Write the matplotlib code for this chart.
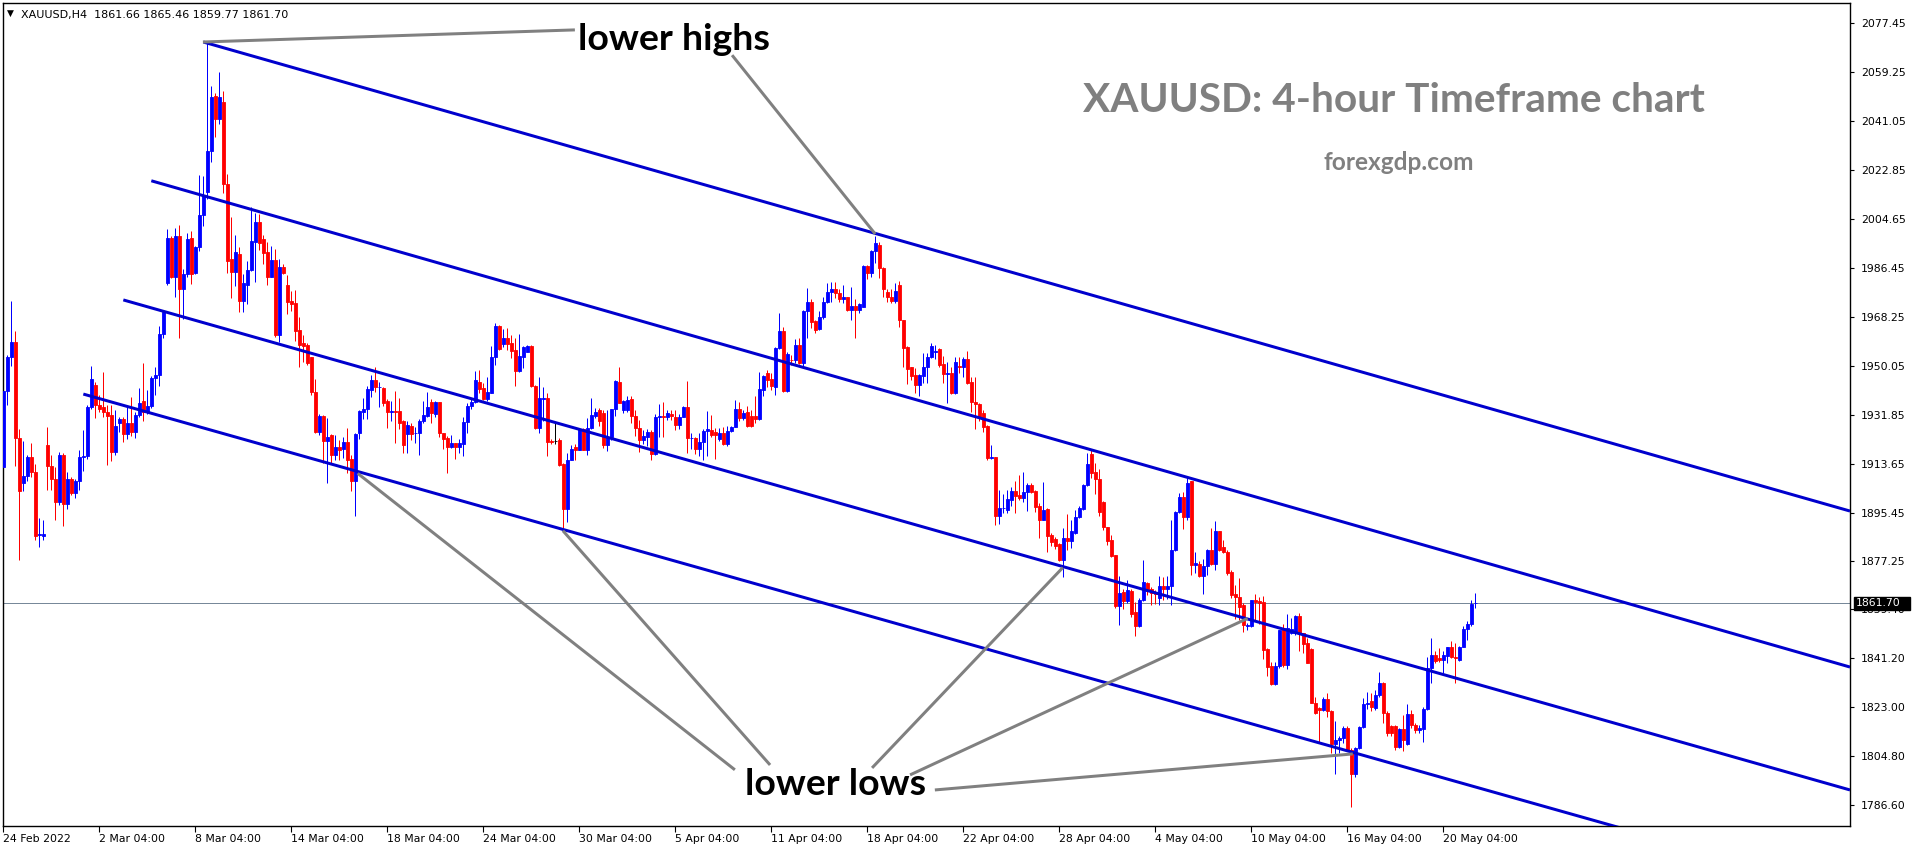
import matplotlib
matplotlib.use("Agg")
import matplotlib.pyplot as plt
from matplotlib.patches import Rectangle
from matplotlib.transforms import blended_transform_factory
import numpy as np

# ---------------- data (XAUUSD H4) ----------------
opens = [
1912.3,1940.5,1953.3,1959.0,1923.2,1906.5,1909.1,1916.1,1910.4,1887.1,
1886.9,1920.6,1912.9,1907.8,1899.2,1917.0,1898.8,1908.1,1902.7,1907.2,
1916.1,1916.5,1934.7,1943.0,1935.3,1934.7,1932.8,1931.7,1918.0,1928.9,
1930.2,1924.8,1928.7,1925.3,1931.7,1936.9,1933.0,1935.0,1945.6,1946.6,
1961.8,1980.8,1997.7,1982.9,1998.1,1978.6,1984.2,1997.7,1984.6,1994.0,
2006.1,2014.7,2030.0,2050.3,2041.6,2048.2,2017.5,1989.7,1985.0,1991.7,
1974.1,1980.1,1985.6,1996.1,2003.4,1997.2,1992.3,1983.1,1989.4,1961.6,
1986.8,1979.9,1974.1,1973.3,1963.5,
1958.4,1957.8,1953.2,1940.4,1925.5,1931.4,1922.2,1924.3,1917.0,1919.7,
1919.0,1921.8,1915.4,1907.0,1925.2,1933.0,1934.0,1941.0,1944.7,1942.0,
1941.6,1936.9,1933.0,1933.2,1933.2,1929.3,1924.5,1927.6,1924.9,1924.9,
1929.3,1931.5,1936.7,1932.1,1936.4,1924.9,1923.3,1920.0,1921.2,1920.0,
1921.0,1929.0,1935.2,1936.4,1943.9,1941.9,1937.6,1940.0,1953.2,1964.8,
1958.1,1960.2,1958.4,1955.9,1948.2,1953.2,1955.3,1957.4,1942.6,1926.8,
1937.6,1937.9,1922.1,1922.1,1922.4,1913.5,1896.7,1915.0,1920.0,1918.7,
1926.4,1918.7,1926.8,1931.5,1933.4,
1932.6,1920.6,1923.7,1933.8,1943.8,1933.6,1933.6,1937.6,1931.4,1927.0,
1922.5,1923.5,1925.5,1917.2,1931.1,1931.4,1931.1,1932.1,1931.1,1928.0,
1931.1,1934.8,1923.1,1923.1,1919.0,1921.5,1925.9,1926.2,1925.4,1922.7,
1925.2,1921.0,1925.9,1927.4,1933.8,1930.5,1933.0,1931.4,1931.4,1930.1,
1941.0,1947.5,1945.0,1942.3,1956.5,1963.0,1940.7,1952.2,1952.2,1957.8,
1951.2,1970.5,1973.9,1966.7,1963.6,1968.3,1973.9,1977.3,1978.6,1977.2,
1974.7,1975.5,1970.8,1972.3,1970.8,1972.0,1987.1,1984.6,1992.7,1994.9,
1986.2,1977.6,1975.5,1974.2,1980.0,
1967.0,1957.1,1949.5,1946.6,1942.9,1946.2,1949.5,1953.2,1955.3,1956.1,
1950.7,1947.0,1947.2,1940.0,1950.0,1949.7,1952.4,1943.8,1936.7,1935.8,
1932.4,1927.6,1915.6,1916.0,1894.2,1897.0,1896.3,1900.1,1903.6,1902.0,
1900.8,1902.9,1905.7,1903.6,1897.9,1892.7,1896.7,1887.1,1885.5,1883.8,
1877.8,1885.9,1885.0,1888.0,1893.7,1896.7,1905.7,1917.2,1910.7,1907.8,
1899.2,1890.0,1885.3,1879.7,1860.7,1866.0,1862.7,1866.4,1858.3,1853.1,
1863.0,1869.4,1866.9,1866.0,1863.6,1868.2,1866.9,1868.2,1881.6,1895.8,
1901.4,1893.7,1907.0,1876.0,
1876.4,1871.9,1875.4,1881.5,1876.4,1888.4,1882.5,1880.9,1873.5,1865.2,
1864.2,1861.1,1853.1,1853.1,1863.0,1862.6,1862.0,1844.6,1838.4,1831.8,
1838.4,1852.4,1838.8,1850.6,1850.6,1856.8,1850.6,1847.1,1844.6,1824.8,
1822.7,1822.1,1826.0,1821.8,1809.4,1810.9,1811.5,1815.3,1807.2,1798.3,
1807.8,1815.6,1824.3,1825.2,1822.7,1827.7,1832.2,1821.1,1815.9,1815.9,
1808.2,1814.9,1809.4,1820.6,1816.5,1814.7,1814.9,1822.3,1837.6,1842.5,
1841.3,1840.7,1842.1,1845.4,1841.9,1840.7,1845.6,1852.1,1854.0,1861.66,
]
highs = [
1948.8,1953.9,1974.1,1962.9,1926.4,1921.9,1916.8,1921.3,1913.6,1893.3,
1892.8,1927.3,1916.8,1912.3,1918.0,1917.6,1910.6,1908.5,1907.8,1918.7,
1926.1,1935.3,1950.1,1944.0,1939.2,1947.7,1935.6,1935.3,1933.4,1930.8,
1930.8,1934.7,1938.5,1932.8,1941.7,1951.0,1941.1,1946.2,1949.4,1964.8,
1970.8,2000.9,1998.3,2001.3,2002.3,1985.9,1999.3,2000.0,1994.5,2021.1,
2020.7,2070.4,2054.1,2051.6,2059.2,2052.2,2021.3,2005.5,1998.7,1994.2,
1984.0,1989.1,2009.0,2007.0,2006.4,1998.7,1996.1,1994.5,1993.6,1989.7,
1987.8,1983.6,1977.8,1978.2,1968.0,
1961.5,1958.4,1953.4,1945.0,1932.0,1931.6,1930.5,1924.5,1924.3,1922.4,
1923.7,1926.8,1916.9,1924.9,1933.6,1937.9,1942.6,1946.6,1949.4,1944.1,
1942.3,1937.5,1936.9,1940.7,1937.9,1929.9,1929.3,1928.6,1927.4,1930.1,
1937.1,1940.4,1937.7,1937.1,1936.7,1925.2,1923.9,1924.3,1921.2,1922.7,
1931.1,1936.1,1937.9,1948.2,1948.5,1943.5,1945.7,1957.4,1965.8,1965.2,
1963.6,1964.0,1961.5,1960.2,1961.7,1957.4,1957.8,1957.6,1942.9,1945.7,
1942.3,1939.8,1922.7,1928.6,1923.1,1914.0,1917.5,1920.6,1921.0,1926.8,
1926.8,1930.5,1937.9,1934.2,1934.5,
1933.6,1933.6,1934.0,1944.7,1949.7,1937.3,1938.8,1938.6,1933.6,1929.9,
1926.2,1926.4,1926.2,1932.1,1935.7,1936.7,1933.6,1933.6,1933.6,1932.1,
1935.0,1944.4,1925.2,1923.7,1924.9,1926.4,1933.3,1931.7,1926.8,1926.8,
1927.1,1927.7,1927.8,1937.3,1936.4,1933.6,1935.1,1933.6,1938.6,1947.8,
1946.6,1948.5,1947.5,1957.1,1969.5,1964.6,1955.3,1954.0,1959.9,1960.2,
1970.8,1978.8,1974.7,1967.0,1970.5,1975.7,1980.7,1981.3,1981.1,1978.4,
1980.1,1975.7,1979.4,1974.7,1973.2,1987.5,1987.5,1993.1,1998.3,1996.2,
1986.6,1978.4,1978.6,1980.7,1981.5,
1967.1,1957.4,1949.7,1949.1,1947.0,1954.7,1954.7,1958.4,1957.8,1956.5,
1953.7,1951.6,1949.7,1953.4,1953.4,1953.2,1955.6,1945.7,1946.0,1936.3,
1933.6,1928.0,1920.6,1916.2,1903.9,1902.4,1903.9,1905.1,1907.3,1909.4,
1910.7,1906.3,1906.3,1903.9,1898.9,1906.9,1897.0,1887.7,1886.5,1884.3,
1889.6,1894.9,1892.7,1896.4,1897.7,1906.0,1917.7,1918.7,1914.0,1911.5,
1899.9,1890.2,1887.1,1879.7,1871.9,1866.9,1870.2,1866.9,1862.0,1863.6,
1877.8,1869.8,1867.9,1866.5,1871.9,1871.6,1871.9,1892.7,1896.2,1902.6,
1902.9,1908.8,1907.3,1880.9,
1877.6,1878.1,1881.8,1889.6,1892.4,1888.7,1885.3,1881.5,1874.1,1868.5,
1871.0,1861.7,1854.3,1863.0,1865.2,1864.2,1864.5,1845.0,1839.7,1840.0,
1851.8,1854.0,1857.8,1856.2,1857.4,1858.2,1850.8,1848.7,1845.0,1827.0,
1823.1,1827.0,1828.3,1822.1,1818.1,1812.2,1815.9,1815.9,1807.9,1808.2,
1816.1,1826.4,1828.9,1828.5,1829.5,1836.0,1832.6,1821.5,1816.5,1816.5,
1815.3,1820.2,1824.3,1822.1,1817.1,1816.5,1823.3,1841.7,1848.7,1843.8,
1845.0,1843.8,1845.6,1847.5,1846.9,1845.9,1853.1,1855.0,1863.0,1865.46,
]
lows = [
1910.0,1935.3,1950.1,1912.9,1877.7,1903.3,1907.2,1908.5,1885.4,1882.6,
1885.2,1904.0,1904.0,1892.8,1898.2,1890.3,1896.7,1902.0,1901.0,1904.0,
1910.8,1915.5,1934.0,1930.5,1932.8,1930.8,1913.3,1914.6,1916.8,1925.3,
1921.5,1922.8,1923.8,1923.2,1930.8,1929.6,1932.1,1934.4,1939.2,1942.4,
1960.3,1980.0,1982.7,1975.6,1960.5,1967.3,1982.9,1980.4,1984.0,1992.7,
2002.1,2012.1,2025.6,2034.9,2040.0,2014.4,1984.6,1975.4,1979.5,1970.1,
1970.1,1973.1,1985.3,1981.2,1992.9,1987.8,1980.1,1983.0,1960.9,1959.0,
1984.0,1969.3,1970.5,1959.3,1949.4,
1951.6,1950.3,1939.2,1925.0,1924.3,1913.8,1906.6,1913.8,1914.8,1915.0,
1915.6,1910.1,1903.6,1894.2,1922.7,1930.1,1930.1,1938.5,1940.4,1934.8,
1935.1,1926.8,1929.3,1921.2,1926.4,1917.5,1917.5,1922.4,1921.2,1916.9,
1928.9,1931.1,1928.9,1931.1,1923.7,1919.0,1910.3,1919.4,1915.3,1917.5,
1916.5,1924.9,1933.8,1936.1,1939.8,1937.3,1937.1,1939.8,1950.3,1955.9,
1956.9,1955.9,1952.8,1942.5,1947.8,1949.1,1955.0,1942.3,1926.4,1924.9,
1929.3,1916.5,1921.0,1921.0,1912.8,1889.6,1892.1,1914.8,1915.0,1918.7,
1918.7,1916.9,1926.4,1930.5,1927.5,
1919.3,1918.5,1922.5,1931.4,1936.1,1932.6,1933.0,1928.9,1923.9,1918.1,
1921.0,1920.2,1914.8,1916.9,1923.7,1923.7,1929.9,1929.9,1926.2,1926.4,
1930.9,1917.5,1919.0,1917.2,1916.3,1914.8,1916.3,1923.7,1915.3,1922.2,
1920.6,1920.2,1925.5,1927.2,1929.3,1929.9,1927.2,1927.2,1928.6,1929.9,
1938.8,1942.3,1941.0,1939.2,1956.1,1940.4,1940.4,1950.3,1950.9,1950.7,
1949.7,1960.2,1964.0,1962.3,1963.3,1967.3,1973.5,1973.9,1975.1,1973.9,
1973.5,1970.5,1967.1,1960.2,1969.5,1971.8,1982.2,1983.2,1988.1,1982.5,
1975.7,1973.9,1973.5,1973.5,1964.6,
1949.7,1943.3,1944.7,1940.0,1938.8,1943.5,1943.5,1952.8,1952.4,1949.7,
1943.5,1936.3,1939.5,1939.5,1947.2,1945.7,1943.3,1933.0,1926.4,1929.6,
1925.5,1915.0,1915.2,1890.8,1891.2,1895.2,1895.2,1897.7,1895.2,1900.1,
1899.5,1896.2,1902.6,1895.8,1885.9,1892.5,1880.9,1883.0,1881.8,1877.6,
1871.4,1881.6,1882.2,1887.5,1893.3,1896.4,1905.3,1908.2,1902.4,1894.2,
1889.0,1883.4,1878.8,1859.9,1853.7,1859.5,1861.7,1856.5,1849.6,1852.8,
1862.4,1864.8,1861.1,1861.4,1861.1,1863.0,1863.2,1861.1,1881.3,1895.2,
1889.2,1892.5,1872.3,1872.9,
1871.4,1865.2,1872.3,1876.0,1874.1,1881.3,1880.5,1872.3,1863.6,1855.8,
1855.5,1851.2,1851.6,1852.8,1855.3,1854.1,1840.9,1834.7,1831.4,1831.4,
1837.6,1838.2,1837.2,1850.3,1850.0,1843.8,1843.4,1839.4,1824.6,1820.6,
1809.7,1821.5,1819.6,1806.0,1798.3,1806.2,1809.7,1806.6,1786.1,1797.3,
1807.4,1815.2,1822.3,1821.8,1822.1,1827.0,1817.1,1812.2,1812.2,1807.0,
1807.8,1806.6,1809.1,1815.3,1813.4,1813.4,1810.3,1822.1,1832.0,1839.4,
1839.7,1835.7,1839.4,1841.3,1832.0,1840.4,1845.4,1848.1,1853.3,1859.77,
]
closes = [
1940.5,1953.3,1959.0,1923.2,1903.3,1909.1,1916.1,1910.4,1886.9,1887.3,
1887.6,1912.9,1907.8,1899.2,1917.0,1898.8,1908.1,1902.7,1907.2,1916.1,
1916.5,1934.7,1945.2,1935.3,1934.0,1932.8,1931.5,1918.0,1927.6,1930.2,
1924.8,1928.7,1925.3,1931.7,1936.2,1932.8,1935.0,1945.6,1946.6,1961.8,
1970.1,1997.7,1982.9,1998.1,1978.6,1984.2,1997.2,1984.2,1994.0,2006.1,
2013.4,2030.0,2049.9,2041.6,2049.9,2017.5,1989.1,1985.0,1992.3,1974.1,
1980.8,1985.6,1996.5,2003.4,1995.5,1991.9,1983.1,1989.4,1961.6,1986.8,
1984.6,1973.7,1973.1,1963.1,1957.7,
1957.4,1951.0,1940.4,1925.5,1931.4,1922.2,1923.7,1916.9,1919.7,1918.7,
1921.8,1915.0,1907.0,1924.7,1933.2,1934.0,1941.4,1944.7,1942.0,1942.3,
1936.3,1933.0,1933.2,1933.0,1928.9,1920.6,1928.0,1924.7,1925.2,1929.5,
1931.7,1934.6,1932.4,1936.4,1924.9,1922.7,1920.0,1921.2,1920.0,1921.2,
1929.0,1935.2,1936.4,1944.7,1941.4,1937.6,1940.4,1953.4,1964.8,1956.3,
1960.2,1958.1,1955.5,1948.2,1953.7,1956.9,1957.4,1942.6,1926.8,1937.9,
1937.9,1921.5,1921.5,1922.1,1913.2,1896.7,1915.0,1919.0,1918.7,1926.4,
1918.7,1926.8,1931.7,1932.7,1929.5,
1920.6,1923.7,1933.8,1944.5,1936.3,1936.9,1937.3,1931.4,1927.0,1922.5,
1923.9,1925.5,1917.2,1931.1,1931.4,1931.0,1932.6,1931.4,1928.0,1931.1,
1934.8,1923.1,1923.3,1919.0,1921.5,1925.9,1926.4,1924.3,1924.3,1924.9,
1921.0,1925.9,1927.4,1933.8,1930.5,1932.6,1927.7,1927.7,1930.1,1941.4,
1946.2,1944.7,1942.5,1956.5,1963.0,1940.7,1954.4,1952.0,1957.8,1950.9,
1970.5,1973.9,1966.4,1963.3,1968.3,1973.9,1977.3,1978.6,1977.2,1974.7,
1975.5,1970.8,1972.3,1970.8,1973.0,1987.1,1984.6,1992.7,1995.6,1986.2,
1978.4,1975.5,1974.2,1977.9,1967.0,
1956.8,1948.7,1946.2,1942.9,1946.6,1949.5,1953.2,1957.4,1955.6,1950.3,
1947.0,1947.3,1940.0,1951.6,1949.7,1952.4,1943.5,1936.7,1935.8,1931.1,
1927.4,1915.6,1916.0,1894.2,1897.0,1897.3,1900.4,1903.6,1901.6,1900.8,
1903.2,1905.7,1903.2,1897.4,1892.7,1896.4,1886.8,1884.6,1883.0,1877.8,
1885.9,1885.0,1888.4,1893.7,1897.0,1905.7,1913.5,1910.1,1907.8,1895.8,
1890.0,1885.0,1879.3,1860.7,1865.7,1862.7,1866.7,1857.8,1853.1,1863.0,
1869.8,1866.4,1865.4,1865.2,1868.2,1866.9,1868.2,1881.6,1895.8,1901.4,
1893.7,1906.6,1876.0,1876.8,
1871.9,1875.4,1881.5,1876.4,1888.4,1881.5,1880.9,1873.1,1864.8,1864.0,
1860.5,1853.7,1853.7,1863.0,1862.3,1861.7,1844.4,1838.2,1831.8,1838.4,
1851.6,1838.8,1852.4,1852.1,1856.8,1850.8,1846.6,1839.4,1824.6,1820.8,
1822.1,1826.0,1821.5,1809.4,1810.9,1811.5,1815.5,1807.0,1798.3,1807.8,
1815.6,1824.3,1824.8,1823.1,1827.7,1832.0,1820.8,1813.6,1813.4,1808.4,
1814.9,1810.7,1820.6,1816.5,1814.7,1815.3,1822.3,1837.6,1842.5,1840.4,
1840.7,1842.5,1845.4,1841.7,1841.3,1845.6,1852.1,1854.0,1861.4,1861.70,
]

x_tick_bars = [0, 24, 48, 72, 96, 120, 144, 168, 192, 216, 240, 264, 288, 312, 336, 360]
x_tick_labels = ["24 Feb 2022", "2 Mar 04:00", "8 Mar 04:00", "14 Mar 04:00", "18 Mar 04:00",
                 "24 Mar 04:00", "30 Mar 04:00", "5 Apr 04:00", "11 Apr 04:00", "18 Apr 04:00",
                 "22 Apr 04:00", "28 Apr 04:00", "4 May 04:00", "10 May 04:00", "16 May 04:00",
                 "20 May 04:00"]
y_tick_values = [2077.45, 2059.25, 2041.05, 2022.85, 2004.65, 1986.45, 1968.25, 1950.05,
                 1931.85, 1913.65, 1895.45, 1877.25, 1859.40, 1841.20, 1823.00, 1804.80, 1786.60]
y_tick_labels = ["%.2f" % v for v in y_tick_values]
last_price = 1861.70
header = "XAUUSD,H4  1861.66 1865.46 1859.77 1861.70"

# channel lines: (start bar, start price, end bar, end price)
channels = [
    (50.0, 2070.4, 461.7, 1896.0),
    (37.0, 2018.8, 461.7, 1838.0),
    (30.0, 1974.5, 461.7, 1792.3),
    (20.0, 1939.5, 461.7, 1754.1),
]
# annotation pointer lines: (bar0, price0, bar1, price1)
high_pointers = [
    (49.9, 2070.4, 142.9, 2074.9),
    (182.2, 2065.5, 218.0, 1999.0),
]
low_pointers = [
    (182.9, 1799.8, 88.6, 1910.0),
    (191.7, 1801.6, 139.9, 1888.7),
    (217.2, 1800.5, 264.9, 1875.0),
    (226.7, 1797.9, 311.1, 1856.1),
    (232.9, 1792.3, 337.4, 1805.7),
]

# ---------------- figure ----------------
W, H = 1916, 850
fig = plt.figure(figsize=(W / 100, H / 100), dpi=100)
fig.patch.set_facecolor("white")
L, R, T, B = 3, 1850, 3, 826
ax = fig.add_axes([L / W, (H - B) / H, (R - L) / W, (B - T) / H])
ax.set_xlim(-0.08, 461.7)
ax.set_ylim(1778.9, 2084.9)

BULL = "#0000FF"
BEAR = "#FF0000"
LINE_BLUE = "#0000CD"
GRAY = "#808080"
px = 0.72  # one pixel in points

ax.axhline(last_price, color="#778899", lw=1 * px, zorder=1)

o = np.array(opens); h = np.array(highs); l = np.array(lows); c = np.array(closes)
idx = np.arange(len(o))
cols = np.where(c > o, BULL, np.where(c < o, BEAR, "#000000"))
ax.vlines(idx, l, h, colors=cols, lw=1 * px, zorder=2)
ax.bar(idx, np.abs(c - o), bottom=np.minimum(o, c), width=0.72, color=cols,
       edgecolor=cols, linewidth=0.6, zorder=3)

for b0, p0, b1, p1 in channels:
    ax.plot([b0, b1], [p0, p1], color=LINE_BLUE, lw=3 * px, solid_capstyle="butt", zorder=5)
for b0, p0, b1, p1 in high_pointers + low_pointers:
    ax.plot([b0, b1], [p0, p1], color=GRAY, lw=3 * px, solid_capstyle="butt", zorder=6)

# axes style
for s in ax.spines.values():
    s.set_color("black")
    s.set_linewidth(1.0)
ax.yaxis.tick_right()
ax.set_yticks(y_tick_values)
ax.set_yticklabels(y_tick_labels)
ax.set_xticks(x_tick_bars)
ax.set_xticklabels(x_tick_labels, ha="left")
ax.tick_params(axis="y", direction="out", length=3, width=0.8, pad=5, labelsize=7.8,
               labelcolor="black", right=True, left=False)
ax.tick_params(axis="x", direction="out", length=4, width=0.8, pad=2, labelsize=7.8,
               labelcolor="black")
for lab in ax.get_xticklabels():
    lab.set_horizontalalignment("left")

# last price box (black tag on the price scale)
tag_tr = blended_transform_factory(ax.transAxes, ax.transData)
fig.canvas.draw()
y_pix = ax.transData.transform((0, last_price))[1]
box_x0 = (1854 - L) / (R - L)
box_w = (1910 - 1854) / (R - L)
box = Rectangle((box_x0, 0), box_w, 1, transform=ax.transAxes, facecolor="black",
                edgecolor="black", clip_on=False, zorder=9)
# place the box 13 px tall centred on the price line
y0_ax = (y_pix - 6.5 - ax.bbox.y0) / ax.bbox.height
box.set_y(y0_ax)
box.set_height(13 / ax.bbox.height)
ax.add_patch(box)
ax.text(box_x0 + 0.6 * box_w / 56 * 3, last_price, "%.2f" % last_price, transform=tag_tr,
        ha="left", va="center", fontsize=7.8, color="white", zorder=10, clip_on=False)

renderer = fig.canvas.get_renderer()


def fit_text(s, x0, x1, ybase, **kw):
    t = fig.text(x0 / W, 1 - ybase / H, s, ha="left", va="baseline", fontsize=20, **kw)
    w = t.get_window_extent(renderer=renderer).width
    t.set_fontsize(20 * (x1 - x0) / w)
    return t


fit_text("lower highs", 578, 770, 50, color="black", fontweight="bold", family="Lato")
fit_text("lower lows", 745, 926, 795, color="black", fontweight="bold", family="Lato")
fit_text("XAUUSD: 4-hour Timeframe chart", 1083, 1705, 112, color=GRAY, fontweight="bold", family="Lato")
fit_text("forexgdp.com", 1323, 1473, 170, color=GRAY, fontweight="bold", family="Lato")

fig.text(7 / W, 1 - 13.5 / H, "\u25BC", ha="left", va="center", fontsize=6.5, color="black")
fit_text(header, 21, 289, 18, color="black")

fig.savefig("out.png", dpi=100, facecolor="white")
